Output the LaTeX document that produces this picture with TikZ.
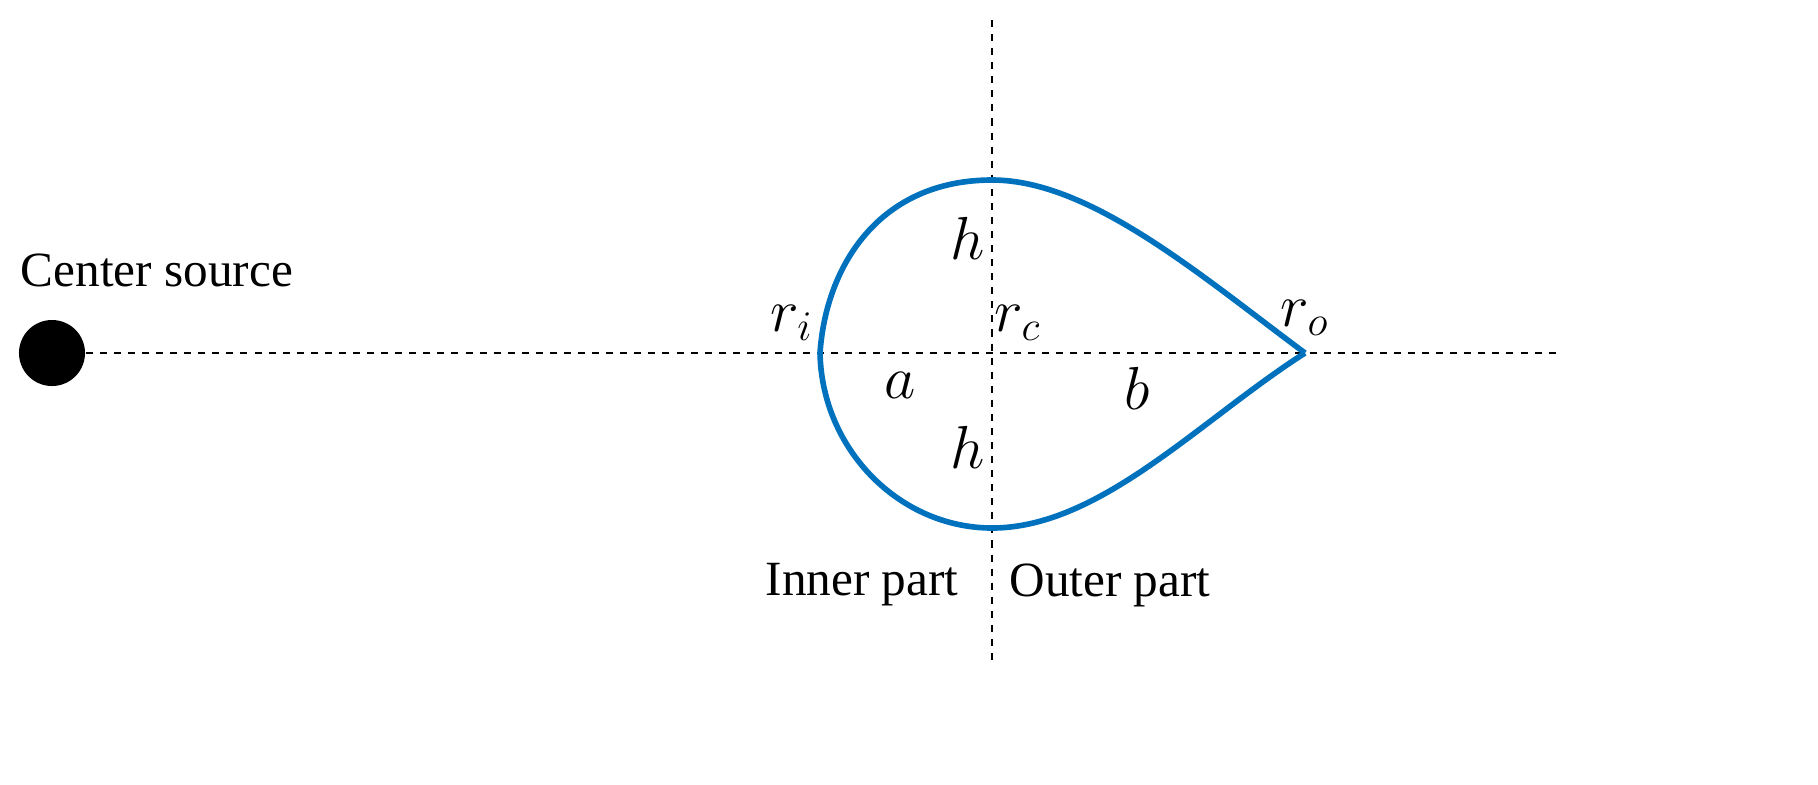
\documentclass[tikz,border=0pt]{standalone}
\usepackage{fontspec}
\setmainfont{Liberation Serif}
\begin{document}
\begin{tikzpicture}[x=0.01cm,y=-0.01cm,
    axis/.style={dashed, thin, dash pattern=on 2pt off 2pt},
    lbl/.style={font=\fontsize{14}{17}\selectfont},
    sym/.style={font=\fontsize{18}{22}\selectfont}
]
    \useasboundingbox (0,0) rectangle (1818,784);
    % source
    \node[circle, fill=black, minimum size=0.66cm, inner sep=0] (src) at (52,353) {};
    \node[lbl] (srclbl) at (157,270) {Center source};
    % axes
    \coordinate (xend) at (1560,353);
    \coordinate (ytop) at (992,20);
    \coordinate (ybot) at (992,662);
    \draw[axis] (src.east) -- (xend);
    \draw[axis] (ytop) -- (ybot);
    % drop shape
    \coordinate (tip) at (1305,353);
    \draw[line width=1.6pt, color={rgb,255:red,0;green,114;blue,189}]
      (tip) .. controls (1200,275) and (1090,180) .. (992,180)
      .. controls (880,180) and (826,265) .. (820,353)
      .. controls (822,450) and (900,528) .. (992,528)
      .. controls (1100,528) and (1200,420) .. (tip);
    % labels
    \node[sym] (ri) at (792,323) {$r_i$};
    \node[sym] (rc) at (1018,323) {$r_c$};
    \node[sym] (ro) at (1305,318) {$r_o$};
    \node[sym] (h1) at (968,238) {$h$};
    \node[sym] (h2) at (968,447) {$h$};
    \node[sym] (a) at (900,385) {$a$};
    \node[sym] (b) at (1137,388) {$b$};
    \node[lbl] (inner) at (862,585) {Inner part};
    \node[lbl] (outer) at (1110,585) {Outer part};
\end{tikzpicture}
\end{document}
